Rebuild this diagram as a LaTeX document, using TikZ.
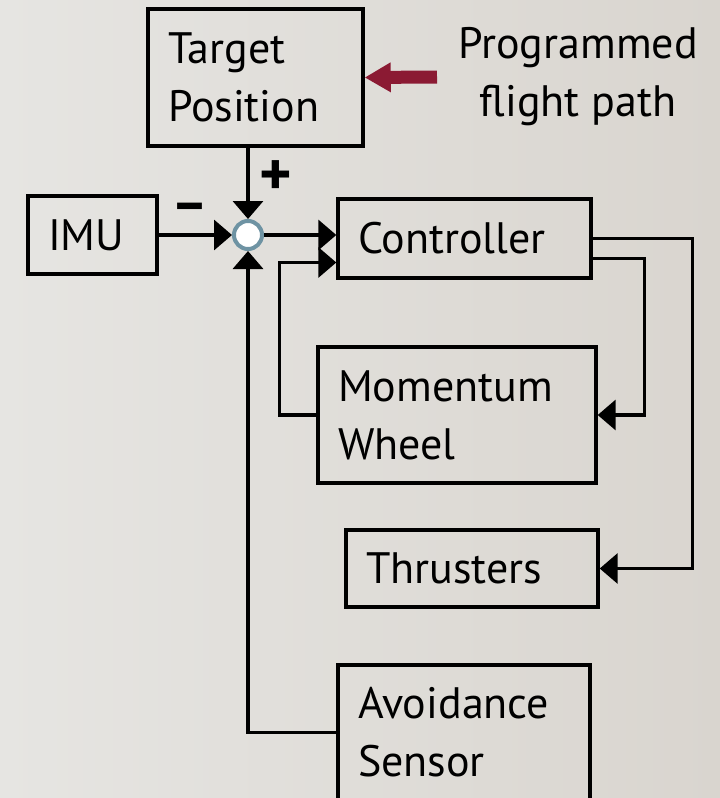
\documentclass[tikz,border=0pt]{standalone}
\usepackage{fontspec}
\setmainfont{PT Sans}
\usetikzlibrary{arrows.meta,calc}
\definecolor{bgleft}{RGB}{230,229,226}
\definecolor{bgright}{RGB}{217,213,207}
\definecolor{sumring}{RGB}{110,147,163}
\definecolor{feedred}{RGB}{139,26,51}
\tikzset{
  blk/.style={draw, rectangle, line width=3.4pt, inner xsep=20pt, inner ysep=0pt, align=left},
  sig/.style={draw, line width=3.4pt, -{Triangle[length=18pt,width=30pt]}},
  sgn/.style={inner sep=0pt, font=\fontsize{#1}{#1}\bfseries},
}
\begin{document}
\begin{tikzpicture}[x=1pt, y=-1pt, font=\fontsize{44}{58}\selectfont]
\path[left color=bgleft, right color=bgright] (0,0) rectangle (720,798);
\useasboundingbox (0,0) rectangle (720,798);
% blocks
\node[blk, minimum width=215pt, minimum height=137pt, text width=175pt] (tgt) at (255.5,77.5) {Target\\Position};
\node[blk, minimum width=129pt, minimum height=78pt, text width=89pt] (imu) at (92.5,235) {IMU};
\node[blk, minimum width=253pt, minimum height=79pt, text width=213pt] (ctrl) at (464.5,238.5) {Controller};
\node[blk, minimum width=278pt, minimum height=136pt, text width=238pt] (mom) at (457,415) {Momentum\\Wheel};
\node[blk, minimum width=252pt, minimum height=77pt, text width=212pt] (thr) at (472,568.5) {Thrusters};
\node[blk, minimum width=252pt, minimum height=135pt, text width=212pt] (avoid) at (464,732.5) {Avoidance\\Sensor};
\node[circle, draw=sumring, fill=white, line width=4pt, minimum size=28pt, inner sep=0pt] (sum) at (248,235) {};
\node[align=center] (prog) at (578,77) {Programmed\\flight path};
\node[sgn=56] (minus) at (190,213) {--};
\node[sgn=62] (plus) at (276,178) {+};
\coordinate (feed) at (437,77);
% signals
\path[draw=feedred, line width=13pt, -{Triangle[length=26pt,width=28pt]}] (feed) -- (tgt.east);
\path[sig] (sum |- tgt.south) -- (sum.north);
\path[sig] (imu.east) -- (sum.west);
\path[sig] (sum.east) -- (sum.east -| ctrl.west);
\path[sig] (ctrl.east) -- ++(100pt,0) |- (thr.east);
\path[sig] ([yshift=-20pt]ctrl.east) -- ++(52pt,0) |- (mom.east);
\path[sig] (mom.west) -- ++(-37pt,0) |- ([yshift=-24pt]ctrl.west);
\path[sig] (avoid.west) -| (sum.south);
\end{tikzpicture}
\end{document}
